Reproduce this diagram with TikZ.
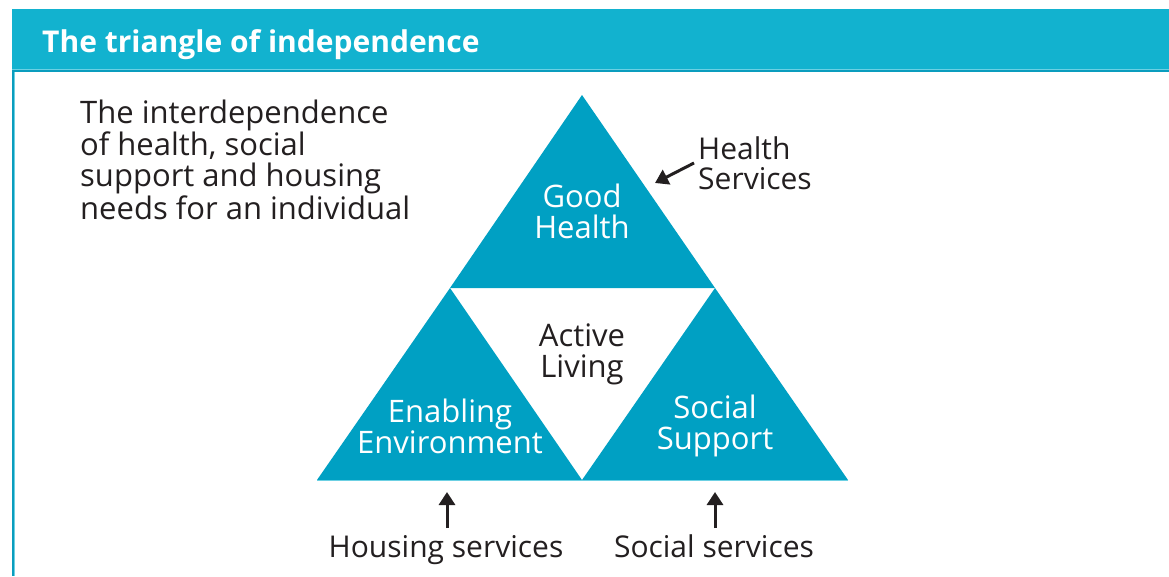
\documentclass[tikz,border=0pt]{standalone}
\usepackage{fontspec}
\setmainfont{Open Sans}
\usetikzlibrary{arrows.meta}
\definecolor{hdr}{HTML}{12B2CF}
\definecolor{tri}{HTML}{00A0C3}
\definecolor{txt}{HTML}{231F20}
\definecolor{lite}{HTML}{6CD0E3}
\definecolor{darkedge}{HTML}{0A9DBE}
\begin{document}
\begin{tikzpicture}[x=1pt,y=-1pt,
  body/.style={inner sep=0pt, text=txt, font=\fontsize{31}{31}\selectfont},
  wtext/.style={inner sep=0pt, text=white, align=center, font=\fontsize{31}{31}\selectfont},
  btext/.style={inner sep=0pt, text=txt, align=center, font=\fontsize{31}{31}\selectfont},
  lbl/.style={inner sep=0pt, text=txt, align=center, font=\fontsize{30}{30}\selectfont},
  tri/.style={fill=tri},
  arr/.style={draw=txt, line width=3pt, -{Triangle[length=13pt,width=16pt]}}
]
\useasboundingbox (0,0) rectangle (1169,576);
\fill[white] (0,0) rectangle (1169,576);
% header and frame
\fill[hdr] (12,9) rectangle (1169,69);
\fill[lite] (12,69) rectangle (1169,70);
\fill[darkedge] (12,70) rectangle (1169,72);
\fill[darkedge] (12,72) rectangle (14,576);
\fill[lite] (14,72) rectangle (15,576);
\node[inner sep=0pt, anchor=base west, text=white, font=\fontsize{30}{36}\selectfont\bfseries] (title) at (42,52) {The triangle of independence};

% triangles
\coordinate (apex) at (582,95);
\coordinate (ml) at (450,288);
\coordinate (mr) at (715,288);
\coordinate (bl) at (317,480);
\coordinate (bm) at (582,480);
\coordinate (br) at (848,480);
\fill[tri] (apex) -- (mr) -- (ml) -- cycle;
\fill[tri] (ml) -- (bm) -- (bl) -- cycle;
\fill[tri] (mr) -- (br) -- (bm) -- cycle;
\draw[lite, line width=1pt] (317,480.8) -- (848,480.8);

% texts (anchor=base is the baseline of the last line)
\node[body, align=left, anchor=base west] (intro) at (80,219) {The interdependence\\of health, social\\support and housing\\needs for an individual};
\node[wtext, anchor=base] (good) at (582,238) {Good\\Health};
\node[btext, anchor=base] (active) at (582,377) {Active\\Living};
\node[wtext, anchor=base] (enab) at (450,453) {Enabling\\Environment};
\node[wtext, anchor=base] (soc) at (715,449) {Social\\Support};
\node[lbl, align=left, anchor=base west] (hs) at (698,189) {Health\\Services};
\node[lbl, anchor=base] (hous) at (446,557) {Housing services};
\node[lbl, anchor=base] (socs) at (714,557) {Social services};

% arrows
\coordinate (hsfrom) at (694,163);
\coordinate (hsto) at (655,183);
\draw[arr] (hsfrom) -- (hsto);
\coordinate (housfrom) at (447,528);
\coordinate (housto) at (447,492);
\draw[arr] (housfrom) -- (housto);
\coordinate (socfrom) at (715,528);
\coordinate (socto) at (715,492);
\draw[arr] (socfrom) -- (socto);
\end{tikzpicture}
\end{document}
